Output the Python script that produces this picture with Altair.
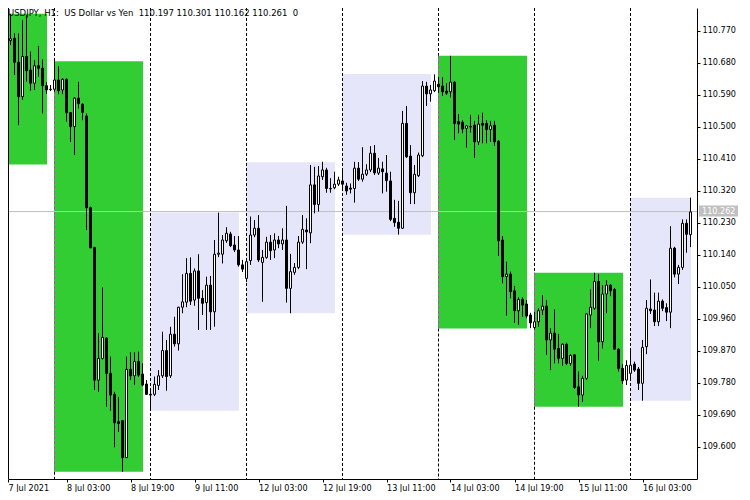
import altair as alt
import pandas as pd

# ---------------- data ----------------
symbol_text = "USDJPY, H1:\u00a0\u00a0US Dollar vs Yen\u00a0\u00a0"
volume_text = "\u00a0\u00a00"

opens = [
    110.632, 110.749, 110.743, 110.749, 110.682, 110.585, 110.698, 110.660, 110.623, 110.672,
    110.665, 110.616, 110.606, 110.606, 110.632, 110.604, 110.634, 110.540, 110.501, 110.581,
    110.564, 110.531, 110.273, 110.161, 109.788, 109.849, 109.906, 109.807, 109.748, 109.671,
    109.674, 109.570, 109.818, 109.800, 109.840, 109.805, 109.777, 109.748, 109.748, 109.773,
    109.800, 109.871, 109.800, 109.917, 109.890, 109.993, 110.007, 110.088, 110.013, 110.095,
    110.018, 110.006, 110.055, 109.980, 110.142, 110.142, 110.180, 110.199, 110.168, 110.154,
    110.112, 110.074, 110.124, 110.196, 110.215, 110.119, 110.133, 110.176, 110.154, 110.182,
    110.171, 110.182, 110.046, 110.091, 110.105, 110.176, 110.210, 110.202, 110.337, 110.282,
    110.360, 110.379, 110.327, 110.329, 110.339, 110.348, 110.334, 110.328, 110.327, 110.384,
    110.353, 110.367, 110.379, 110.426, 110.370, 110.382, 110.370, 110.348, 110.243, 110.232,
    110.215, 110.510, 110.418, 110.315, 110.363, 110.419, 110.615, 110.593, 110.602, 110.620,
    110.615, 110.601, 110.599, 110.626, 110.515, 110.513, 110.496, 110.501, 110.505, 110.458,
    110.510, 110.510, 110.493, 110.505, 110.460, 110.182, 110.079, 110.086, 110.039, 109.983,
    110.015, 110.002, 109.971, 109.936, 109.952, 109.985, 109.996, 109.901, 109.920, 109.877,
    109.849, 109.889, 109.835, 109.859, 109.769, 109.746, 109.793, 109.971, 109.990, 110.065,
    109.896, 110.030, 110.055, 110.043, 109.875, 109.821, 109.788, 109.807, 109.833, 109.819,
    109.779, 109.882, 109.988, 109.985, 109.952, 110.010, 109.992, 109.979, 110.159, 110.086,
    110.105, 110.229, 110.197,
]
highs = [
    110.759, 110.775, 110.818, 110.764, 110.763, 110.801, 110.815, 110.712, 110.688, 110.728,
    110.690, 110.626, 110.618, 110.685, 110.671, 110.637, 110.637, 110.542, 110.584, 110.627,
    110.566, 110.538, 110.276, 110.163, 109.920, 110.049, 109.909, 109.854, 109.755, 109.741,
    109.676, 109.854, 109.866, 109.866, 109.868, 109.835, 109.788, 109.763, 109.798, 109.816,
    109.924, 109.901, 109.938, 109.966, 109.994, 110.086, 110.131, 110.133, 110.102, 110.142,
    110.041, 110.079, 110.081, 110.182, 110.259, 110.196, 110.218, 110.205, 110.193, 110.193,
    110.126, 110.131, 110.248, 110.238, 110.252, 110.154, 110.191, 110.196, 110.201, 110.193,
    110.215, 110.278, 110.143, 110.117, 110.193, 110.252, 110.243, 110.393, 110.388, 110.390,
    110.402, 110.385, 110.356, 110.374, 110.360, 110.381, 110.343, 110.341, 110.402, 110.401,
    110.443, 110.395, 110.446, 110.449, 110.413, 110.402, 110.421, 110.374, 110.295, 110.292,
    110.545, 110.559, 110.449, 110.393, 110.428, 110.629, 110.627, 110.618, 110.648, 110.640,
    110.640, 110.623, 110.700, 110.629, 110.536, 110.519, 110.505, 110.534, 110.517, 110.534,
    110.540, 110.519, 110.517, 110.517, 110.463, 110.193, 110.121, 110.093, 110.053, 110.021,
    110.021, 110.013, 109.977, 109.980, 109.990, 110.027, 110.013, 109.934, 109.987, 109.918,
    109.891, 109.893, 109.861, 109.861, 109.812, 109.800, 109.976, 110.043, 110.090, 110.086,
    110.055, 110.069, 110.058, 110.047, 109.878, 109.833, 109.844, 109.871, 109.840, 109.825,
    109.901, 110.013, 110.071, 110.034, 110.034, 110.015, 110.004, 110.221, 110.163, 110.112,
    110.240, 110.240, 110.301,
]
lows = [
    110.626, 110.716, 110.730, 110.646, 110.505, 110.576, 110.627, 110.602, 110.604, 110.641,
    110.538, 110.593, 110.601, 110.599, 110.592, 110.592, 110.515, 110.458, 110.421, 110.552,
    110.519, 110.210, 110.159, 109.760, 109.755, 109.846, 109.713, 109.702, 109.599, 109.642,
    109.530, 109.569, 109.788, 109.774, 109.797, 109.771, 109.746, 109.702, 109.743, 109.760,
    109.794, 109.758, 109.794, 109.882, 109.871, 109.976, 109.993, 109.999, 109.997, 109.929,
    109.971, 109.929, 109.929, 109.938, 110.134, 110.116, 110.174, 110.162, 110.148, 110.107,
    110.092, 110.064, 110.112, 110.190, 110.120, 110.008, 110.129, 110.126, 110.131, 110.159,
    110.154, 110.006, 109.976, 110.084, 110.100, 110.171, 110.100, 110.173, 110.257, 110.262,
    110.351, 110.315, 110.315, 110.325, 110.334, 110.323, 110.309, 110.313, 110.287, 110.348,
    110.346, 110.362, 110.373, 110.365, 110.365, 110.313, 110.318, 110.235, 110.219, 110.197,
    110.213, 110.413, 110.283, 110.283, 110.359, 110.415, 110.559, 110.571, 110.598, 110.596,
    110.587, 110.590, 110.583, 110.463, 110.482, 110.482, 110.442, 110.484, 110.413, 110.449,
    110.454, 110.454, 110.458, 110.447, 110.137, 110.060, 109.969, 110.018, 109.949, 109.943,
    109.966, 109.962, 109.934, 109.931, 109.938, 109.971, 109.859, 109.816, 109.835, 109.835,
    109.828, 109.830, 109.828, 109.763, 109.713, 109.727, 109.788, 109.934, 109.985, 109.843,
    109.877, 109.976, 110.024, 109.873, 109.812, 109.777, 109.774, 109.791, 109.811, 109.760,
    109.730, 109.861, 109.974, 109.940, 109.940, 109.982, 109.954, 109.934, 110.077, 110.058,
    110.098, 110.146, 110.162,
]
closes = [
    110.749, 110.743, 110.748, 110.682, 110.585, 110.698, 110.658, 110.623, 110.672, 110.665,
    110.616, 110.604, 110.605, 110.632, 110.602, 110.634, 110.540, 110.501, 110.581, 110.566,
    110.541, 110.273, 110.160, 109.788, 109.849, 109.908, 109.807, 109.746, 109.668, 109.666,
    109.570, 109.818, 109.800, 109.840, 109.802, 109.774, 109.748, 109.746, 109.776, 109.800,
    109.871, 109.798, 109.917, 109.890, 109.993, 110.008, 110.088, 110.010, 110.095, 110.018,
    110.004, 110.055, 109.980, 110.142, 110.145, 110.182, 110.201, 110.166, 110.154, 110.112,
    110.100, 110.121, 110.196, 110.215, 110.126, 110.133, 110.176, 110.152, 110.182, 110.171,
    110.182, 110.046, 110.093, 110.105, 110.176, 110.212, 110.205, 110.337, 110.282, 110.362,
    110.379, 110.327, 110.326, 110.339, 110.351, 110.339, 110.320, 110.325, 110.384, 110.353,
    110.367, 110.379, 110.426, 110.371, 110.384, 110.374, 110.349, 110.240, 110.231, 110.215,
    110.510, 110.416, 110.315, 110.367, 110.421, 110.615, 110.593, 110.604, 110.629, 110.613,
    110.599, 110.595, 110.626, 110.510, 110.508, 110.494, 110.503, 110.500, 110.458, 110.508,
    110.505, 110.493, 110.503, 110.458, 110.180, 110.079, 110.086, 110.037, 109.983, 110.015,
    109.999, 109.968, 109.949, 109.952, 109.983, 109.996, 109.901, 109.920, 109.875, 109.849,
    109.889, 109.835, 109.857, 109.767, 109.746, 109.793, 109.974, 109.993, 110.065, 109.896,
    110.030, 110.055, 110.039, 109.875, 109.821, 109.786, 109.829, 109.830, 109.816, 109.779,
    109.880, 109.990, 109.983, 109.952, 110.010, 109.990, 109.979, 110.159, 110.086, 110.105,
    110.229, 110.198, 110.261,
]

# bar index of each x-axis tick and its label
tick_bars = [0, 16, 32, 48, 64, 80, 96, 112, 128, 144, 160]
tick_labels = ["7 Jul 2021", "8 Jul 03:00", "8 Jul 19:00", "9 Jul 11:00", "12 Jul 03:00",
               "12 Jul 19:00", "13 Jul 11:00", "14 Jul 03:00", "14 Jul 19:00",
               "15 Jul 11:00", "16 Jul 03:00"]

# daily high/low boxes (bar index of day start, last bar covered by the box)
day_start = [-11, 13, 37, 61, 85, 109, 133, 157]
day_box_end = [11, 35, 59, 83, 107, 131, 155, 172]
day_high = [110.818, 110.685, 110.259, 110.401, 110.649, 110.700, 110.090, 110.301]
day_low = [110.394, 109.530, 109.702, 109.976, 110.197, 109.933, 109.713, 109.730]
day_kind = ["down", "down", "up", "up", "up", "down", "down", "up"]

price_ticks = [109.600, 109.690, 109.780, 109.870, 109.960, 110.050, 110.140,
               110.230, 110.320, 110.410, 110.500, 110.590, 110.680, 110.770]
current_price = 110.262

x_domain = [1.375, 173.625]
y_domain = [109.5098, 110.8345]

# ---------------- tables ----------------
n = len(opens)
bars = pd.DataFrame({"i": list(range(n)), "open": opens, "high": highs,
                     "low": lows, "close": closes})
bars["x1"] = bars["i"] - 0.25
bars["x2"] = bars["i"] + 0.25
bars["top"] = bars[["open", "close"]].max(axis=1)
bars["bot"] = bars[["open", "close"]].min(axis=1)
bars["dir"] = ["up" if c >= o else "down" for o, c in zip(opens, closes)]

boxes = pd.DataFrame({"x1": [s - 0.125 for s in day_start],
                      "x2": [e + 0.125 for e in day_box_end],
                      "high": day_high, "low": day_low, "kind": day_kind})

black_seg, magenta_seg = [], []
for s, hi, lo, k in zip(day_start, day_high, day_low, day_kind):
    if s < x_domain[0]:
        continue
    if k == "down":
        black_seg.append({"i": s, "a": y_domain[1], "b": hi})
        black_seg.append({"i": s, "a": lo, "b": y_domain[0]})
        magenta_seg.append({"i": s, "a": hi, "b": lo})
    else:
        black_seg.append({"i": s, "a": y_domain[1], "b": y_domain[0]})
black_seg = pd.DataFrame(black_seg)
magenta_seg = pd.DataFrame(magenta_seg)

header = (symbol_text + " ".join(f"{v:.3f}" for v in
          (opens[-1], highs[-1], lows[-1], closes[-1])) + volume_text)

# ---------------- scales / axes ----------------
FONT = "DejaVu Sans"
AX_SIZE = 8.1
label_expr = "[" + ",".join(f"'{t}'" for t in tick_labels) + "][round(datum.value/16)]"
xscale = alt.Scale(domain=x_domain, nice=False, zero=False)
yscale = alt.Scale(domain=y_domain, nice=False, zero=False)
xaxis = alt.Axis(values=[max(b, x_domain[0]) for b in tick_bars], labelExpr=label_expr,
                 labelAlign="left", labelBaseline="top", labelPadding=2, tickSize=3,
                 grid=False, title=None, labelOverlap=False, labelFlush=False,
                 labelFont=FONT, labelFontSize=AX_SIZE, labelColor="black",
                 tickColor="black", domainColor="black")
yaxis = alt.Axis(orient="right", values=price_ticks, format=".3f", labelAlign="left",
                 labelBaseline="middle", labelPadding=2, tickSize=3, grid=False,
                 title=None, labelOverlap=False, labelFlush=False,
                 labelFont=FONT, labelFontSize=AX_SIZE, labelColor="black",
                 tickColor="black", domainColor="black")


def X(f):
    return alt.X(f, type="quantitative", scale=xscale, axis=xaxis)


def Y(f):
    return alt.Y(f, type="quantitative", scale=yscale, axis=yaxis)


box_layer = alt.Chart(boxes).mark_rect(clip=True).encode(
    x=X("x1"), x2="x2", y=Y("low"), y2="high",
    color=alt.Color("kind:N", scale=alt.Scale(domain=["down", "up"],
                                              range=["#32CD32", "#E6E6FA"]), legend=None))

sep_black = alt.Chart(black_seg).mark_rule(clip=True, color="black", strokeWidth=1,
                                           strokeDash=[3, 2]).encode(
    x=X("i"), y=Y("a"), y2="b")
sep_magenta = alt.Chart(magenta_seg).mark_rule(clip=True, color="#CD32CD", strokeWidth=1,
                                               strokeDash=[3, 2]).encode(
    x=X("i"), y=Y("a"), y2="b")

price_df = pd.DataFrame({"p": [current_price], "t": [f"{current_price:.3f}"]})
price_line = alt.Chart(price_df).mark_rule(color="#C0C0C0", strokeWidth=1).encode(y=Y("p"))

# left frame line of the chart window
frame = alt.Chart(price_df).mark_rule(color="black", strokeWidth=1).encode(
    x=alt.value(0.5), y=alt.value(0), y2=alt.value(471))

wicks = alt.Chart(bars).mark_rule(clip=True, color="black", strokeWidth=1).encode(
    x=X("i"), y=Y("low"), y2="high")
bodies = alt.Chart(bars).mark_rect(clip=True, stroke="black", strokeWidth=1).encode(
    x=X("x1"), x2="x2", y=Y("bot"), y2="top",
    fill=alt.Fill("dir:N", scale=alt.Scale(domain=["up", "down"], range=["white", "black"]),
                  legend=None))

head = alt.Chart(pd.DataFrame({"t": [header]})).mark_text(
    align="left", baseline="alphabetic", font=FONT, fontSize=8.5, color="black").encode(
    x=alt.value(0), y=alt.value(7.5), text="t:N")

price_box = alt.Chart(price_df).mark_rect(color="#C0C0C0", yOffset=-6, y2Offset=5).encode(
    x=alt.value(691), x2=alt.value(730), y=Y("p"), y2="p")
price_txt = alt.Chart(price_df).mark_text(align="left", baseline="middle", font=FONT,
                                          fontSize=AX_SIZE, color="white").encode(
    x=alt.value(694), y=Y("p"), text="t:N")

chart = alt.layer(box_layer, sep_black, sep_magenta, price_line, frame, wicks, bodies,
                  head, price_box, price_txt).properties(
    width=689, height=471,
    autosize=alt.AutoSizeParams(type="none"),
    padding={"left": 0, "top": 0, "right": 45, "bottom": 13},
    background="white",
).configure_view(stroke=None)

chart.save("out.html", embed_options={"renderer": "svg", "actions": False})
